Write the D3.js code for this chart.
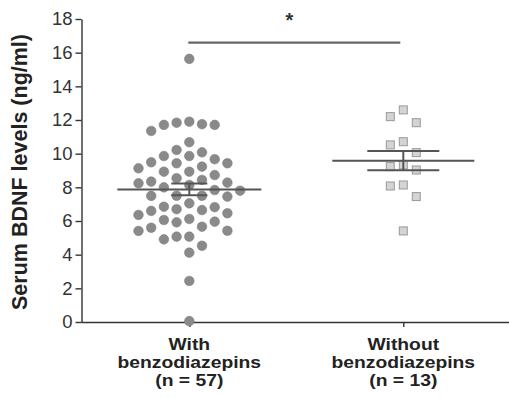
<!DOCTYPE html>
<html>

<head>
  <meta charset="utf-8">
  <title>Serum BDNF levels</title>
  <style>
    body {
      margin: 0;
      background: #fff;
    }

    svg {
      font-family: "Liberation Sans", Arial, sans-serif;
    }
  </style>
</head>

<body>
  <svg></svg>
  <script src="https://cdnjs.cloudflare.com/ajax/libs/d3/7.8.5/d3.min.js"></script>
  <script>
    // groups and their labels (one line per entry)
    var groups = ["with", "without"];
    var groupLabels = [
      ["With", "benzodiazepins", "(n = 57)"],
      ["Without", "benzodiazepins", "(n = 13)"]
    ];

    // serum BDNF (ng/ml)
    var withBzd = [15.63, 11.90, 11.71, 11.35, 11.71, 11.75, 11.84, 10.68, 10.08, 9.86,
      9.49, 9.43, 9.43, 9.67, 9.86, 10.22, 9.23, 8.93, 8.73, 8.54,
      8.93, 9.13, 8.34, 8.24, 8.00, 7.84, 7.80, 8.14, 8.28, 8.44,
      7.50, 7.45, 7.49, 7.50, 6.70, 6.60, 6.36, 6.85, 6.82, 7.05,
      6.46, 6.65, 5.66, 5.42, 6.06, 5.92, 5.96, 6.12, 5.07, 4.91,
      5.07, 5.41, 5.60, 4.53, 4.12, 2.44, 0.05];
    var withoutBzd = [12.60, 12.20, 11.84, 10.52, 10.71, 10.06, 9.33, 9.03, 9.23,
      8.08, 8.14, 7.45, 5.41];

    var yTicks = [0, 2, 4, 6, 8, 10, 12, 14, 16, 18];
    var sigLevel = 16.6;
    var sigText = "*";

    var width = 509,
      height = 398;

    var svg = d3.select("svg").attr("width", width).attr("height", height);

    var y = d3.scaleLinear().domain([0, 18]).range([322, 19]);
    var x = d3.scalePoint().domain(groups).range([82.3, 510.3]).padding(0.5);
    var axisX = 81.5;

    // y axis
    var gy = svg.append("g")
      .attr("transform", "translate(" + axisX + ",0)")
      .call(d3.axisLeft(y).tickValues(yTicks).tickSize(6).tickSizeOuter(0).tickPadding(3));
    gy.selectAll("path, line").attr("stroke", "#333").attr("stroke-width", 1.4);
    gy.selectAll("text").attr("font-size", 18.5).attr("fill", "#333")
      .attr("font-family", "'Liberation Sans', Arial, sans-serif");

    svg.append("text")
      .attr("transform", "translate(27,172) rotate(-90)")
      .attr("text-anchor", "middle")
      .attr("font-weight", "bold")
      .attr("font-size", 21.5)
      .attr("fill", "#222")
      .text("Serum BDNF levels (ng/ml)");

    // x axis
    var gx = svg.append("g")
      .attr("transform", "translate(0," + y(0) + ")")
      .call(d3.axisBottom(x).tickSize(5).tickSizeOuter(0).tickFormat(""));
    gx.select(".domain").attr("d", "M" + axisX + ",0.5H" + width);
    gx.selectAll("path, line").attr("stroke", "#333").attr("stroke-width", 1.4);

    // the labels in the figure are a little wider than Arial, hence the stretch
    groups.forEach(function (g, i) {
      var t = svg.append("text")
        .attr("transform", "translate(" + x(g) + ",0) scale(1.17,1)")
        .attr("text-anchor", "middle")
        .attr("font-weight", "bold")
        .attr("font-size", 16.5)
        .attr("fill", "#222");
      groupLabels[i].forEach(function (line, j) {
        t.append("tspan").attr("x", 0).attr("y", 350 + j * 18).text(line);
      });
    });

    // simple column beeswarm: slots 0, -1, +1, -2, +2 ...
    function swarm(values, step, minDist) {
      var placed = [];
      var order = values.map(function (v, i) { return i; })
        .sort(function (a, b) { return values[b] - values[a]; });
      var out = new Array(values.length);
      order.forEach(function (i) {
        var py = y(values[i]);
        for (var k = 0; k < 40; k++) {
          var slot = k === 0 ? 0 : (k % 2 ? -Math.ceil(k / 2) : k / 2);
          var hit = placed.some(function (p) { return p.slot === slot && Math.abs(p.py - py) < minDist; });
          if (!hit) {
            placed.push({ slot: slot, py: py });
            out[i] = { dx: slot * step, py: py };
            break;
          }
        }
      });
      return out;
    }

    var left = swarm(withBzd, 12.7, 13);
    svg.append("g").selectAll("circle").data(left)
      .enter()
      .append("circle")
      .attr("cx", function (d) { return x("with") + d.dx; })
      .attr("cy", function (d) { return d.py; })
      .attr("r", 4.8)
      .attr("fill", "#8a8a8a")
      .attr("stroke", "#7e7e7e")
      .attr("stroke-width", 0.6);

    var right = swarm(withoutBzd, 13, 13);
    svg.append("g").selectAll("rect").data(right)
      .enter()
      .append("rect")
      .attr("x", function (d) { return x("without") + d.dx - 4; })
      .attr("y", function (d) { return d.py - 4; })
      .attr("width", 8)
      .attr("height", 8)
      .attr("fill", "#d4d4d4")
      .attr("stroke", "#999")
      .attr("stroke-width", 1);

    // mean +/- SEM
    function meanSem(cx, values, halfMean, halfCap) {
      var m = d3.mean(values);
      var sem = d3.deviation(values) / Math.sqrt(values.length);
      var g = svg.append("g").attr("stroke", "#555").attr("stroke-width", 2);
      g.append("line").attr("x1", cx - halfMean).attr("x2", cx + halfMean).attr("y1", y(m)).attr("y2", y(m));
      g.append("line").attr("x1", cx - halfCap).attr("x2", cx + halfCap).attr("y1", y(m + sem)).attr("y2", y(m + sem));
      g.append("line").attr("x1", cx - halfCap).attr("x2", cx + halfCap).attr("y1", y(m - sem)).attr("y2", y(m - sem));
      g.append("line").attr("x1", cx).attr("x2", cx).attr("y1", y(m + sem)).attr("y2", y(m - sem));
    }
    meanSem(x("with"), withBzd, 72, 18);
    meanSem(x("without"), withoutBzd, 71, 36);

    // significance bar
    svg.append("line")
      .attr("x1", x("with") - 1).attr("x2", x("without") - 3)
      .attr("y1", y(sigLevel)).attr("y2", y(sigLevel))
      .attr("stroke", "#666").attr("stroke-width", 2.2);
    svg.append("text")
      .attr("x", (x("with") + x("without")) / 2 - 7)
      .attr("y", y(sigLevel) - 16)
      .attr("text-anchor", "middle")
      .attr("font-weight", "bold")
      .attr("font-size", 20)
      .attr("fill", "#333")
      .text(sigText);
  </script>
</body>

</html>
